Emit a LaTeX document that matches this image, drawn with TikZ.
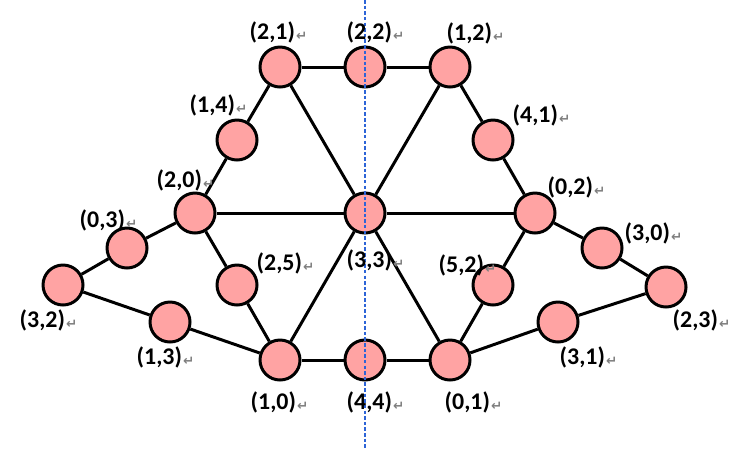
\documentclass[tikz,border=0pt]{standalone}
\usepackage{fontspec}
\setmainfont{Carlito}
\newfontfamily\markfont{DejaVu Sans}
\usepackage{tikz}
\usetikzlibrary{positioning,calc}
\definecolor{vpink}{RGB}{255,163,163}
\definecolor{guideblue}{RGB}{45,100,215}
\newcommand{\pmark}{\hspace{0.3pt}{\markfont\fontsize{3.8}{4}\selectfont\color{gray}\raisebox{-0.4pt}{↵}}}

\begin{document}
\begin{tikzpicture}[font=\fontsize{6.8}{7}\selectfont\bfseries, v/.style={draw, circle, line width=0.85pt, inner sep=0pt, minimum size=0.4cm, fill=vpink}, lab/.style={anchor=west, inner sep=0pt}, e/.style={line width=0.85pt}]
\useasboundingbox (0,0) rectangle (7.43,4.49);
% guide line
\coordinate (gtop) at (3.65,4.49);
\coordinate (gbot) at (3.65,0);
% vertices
\node[v] (n21) at (2.80,3.82) {};
\node[v] (n22) at (3.65,3.82) {};
\node[v] (n12) at (4.50,3.82) {};
\node[v] (n14) at (2.37,3.09) {};
\node[v] (n41) at (4.93,3.09) {};
\node[v] (n20) at (1.95,2.36) {};
\node[v] (n33) at (3.65,2.36) {};
\node[v] (n02) at (5.35,2.36) {};
\node[v] (n03) at (1.27,2.01) {};
\node[v] (n30) at (6.02,2.01) {};
\node[v] (n32) at (0.63,1.64) {};
\node[v] (n23) at (6.66,1.62) {};
\node[v] (n25) at (2.37,1.64) {};
\node[v] (n52) at (4.93,1.64) {};
\node[v] (n13) at (1.70,1.27) {};
\node[v] (n31) at (5.58,1.27) {};
\node[v] (n10) at (2.80,0.89) {};
\node[v] (n44) at (3.65,0.89) {};
\node[v] (n01) at (4.50,0.89) {};
% hexagon
\draw[e] (n21) -- (n22); \draw[e] (n22) -- (n12);
\draw[e] (n12) -- (n41); \draw[e] (n41) -- (n02);
\draw[e] (n02) -- (n52); \draw[e] (n52) -- (n01);
\draw[e] (n01) -- (n44); \draw[e] (n44) -- (n10);
\draw[e] (n10) -- (n25); \draw[e] (n25) -- (n20);
\draw[e] (n20) -- (n14); \draw[e] (n14) -- (n21);
% spokes
\draw[e] (n33) -- (n21); \draw[e] (n33) -- (n12);
\draw[e] (n33) -- (n20); \draw[e] (n33) -- (n02);
\draw[e] (n33) -- (n10); \draw[e] (n33) -- (n01);
% wings
\draw[e] (n20) -- (n03); \draw[e] (n03) -- (n32);
\draw[e] (n32) -- (n13); \draw[e] (n13) -- (n10);
\draw[e] (n02) -- (n30); \draw[e] (n30) -- (n23);
\draw[e] (n23) -- (n31); \draw[e] (n31) -- (n01);
\draw[guideblue, line width=0.35pt, dash pattern=on 1pt off 0.6pt] (gtop) -- (gbot);
% labels
\node[lab] (l21) at (2.49,4.17) {(2,1)\pmark};
\node[lab] (l22) at (3.46,4.17) {(2,2)\pmark};
\node[lab] (l12) at (4.46,4.16) {(1,2)\pmark};
\node[lab] (l14) at (1.89,3.44) {(1,4)\pmark};
\node[lab] (l41) at (5.12,3.34) {(4,1)\pmark};
\node[lab] (l20) at (1.56,2.69) {(2,0)\pmark};
\node[lab] (l02) at (5.47,2.62) {(0,2)\pmark};
\node[lab] (l03) at (0.79,2.29) {(0,3)\pmark};
\node[lab] (l30) at (6.24,2.16) {(3,0)\pmark};
\node[lab] (l33) at (3.46,1.89) {(3,3)\pmark};
\node[lab] (l25) at (2.56,1.86) {(2,5)\pmark};
\node[lab] (l52) at (4.38,1.84) {(5,2)\pmark};
\node[lab] (l32) at (0.19,1.29) {(3,2)\pmark};
\node[lab] (l23) at (6.72,1.29) {(2,3)\pmark};
\node[lab] (l13) at (1.36,0.92) {(1,3)\pmark};
\node[lab] (l31) at (5.59,0.92) {(3,1)\pmark};
\node[lab] (l10) at (2.50,0.47) {(1,0)\pmark};
\node[lab] (l44) at (3.46,0.47) {(4,4)\pmark};
\node[lab] (l01) at (4.44,0.47) {(0,1)\pmark};
\end{tikzpicture}
\end{document}
